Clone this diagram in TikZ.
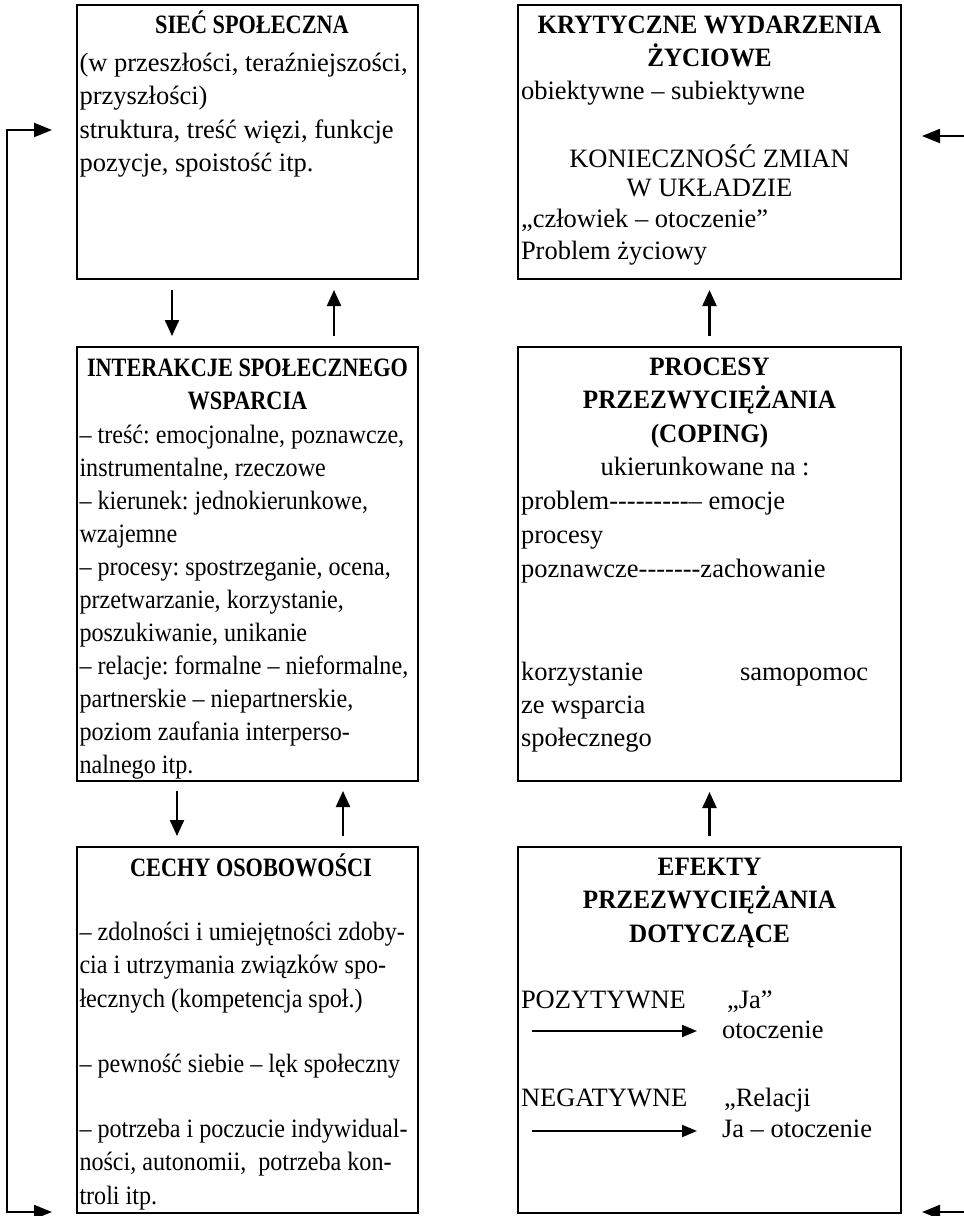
\documentclass[tikz,border=0pt]{standalone}
\usepackage{fontspec}
\setmainfont{Liberation Serif}
\newfontfamily\leftfont{Liberation Serif}[FakeStretch=0.91]
\newfontfamily\lefthead{Liberation Serif}[FakeStretch=0.84]
\newfontfamily\righthead{Liberation Serif}[FakeStretch=0.95]
\usetikzlibrary{arrows.meta}

% stacked lines with a fixed baseline distance; the node baseline is the first line
\newcommand\rowsL[2][33.5pt]{\vtop{\baselineskip=#1\lineskiplimit=-100pt\lineskip=0pt\halign{##\hfil\cr#2\crcr}}}
\newcommand\rowsC[2][33.5pt]{\vtop{\baselineskip=#1\lineskiplimit=-100pt\lineskip=0pt\halign{\hfil##\hfil\cr#2\crcr}}}

\tikzset{
  panel/.style={draw, line width=2.2pt, inner sep=0pt, outer sep=0pt, anchor=north west},
  txt/.style={inner sep=0pt, outer sep=0pt, font=\fontsize{26.5}{33.5}\selectfont},
  txtL/.style={inner sep=0pt, outer sep=0pt, font=\leftfont\fontsize{26.5}{33.5}\selectfont},
  headL/.style={inner sep=0pt, outer sep=0pt, font=\lefthead\bfseries\fontsize{26.5}{33.5}\selectfont},
  headR/.style={inner sep=0pt, outer sep=0pt, font=\righthead\bfseries\fontsize{26.5}{33.5}\selectfont},
  arr/.style={line width=2.2pt, -{Triangle[length=16pt,width=14pt]}},
  sidearr/.style={line width=2.2pt, -{Triangle[length=18pt,width=14pt]}},
  looparr/.style={line width=2.2pt, {Triangle[length=18pt,width=14pt]}-{Triangle[length=18pt,width=14pt]}},
  smallarr/.style={line width=2pt, -{Triangle[length=15pt,width=12pt]}}
}

\begin{document}
\frenchspacing
\begin{tikzpicture}[x=1pt,y=-1pt]
\useasboundingbox (0,0) rectangle (964,1216);

% ---- panels ----
\node[panel, minimum width=341pt, minimum height=274pt] (siec)  at (77,5) {};
\node[panel, minimum width=383pt, minimum height=274pt] (kryt)  at (518,5) {};
\node[panel, minimum width=341pt, minimum height=434pt] (inter) at (77,347) {};
\node[panel, minimum width=383pt, minimum height=434pt] (proc)  at (518,347) {};
\node[panel, minimum width=341pt, minimum height=366pt] (cechy) at (77,847) {};
\node[panel, minimum width=383pt, minimum height=366pt] (efekt) at (518,847) {};

% ---- social network ----
\node[headL, anchor=base] (siecT) at (252,33) {SIEĆ SPOŁECZNA};
\node[txt, anchor=base west] (siecB) at (79.5,71) {\rowsL{(w przeszłości, teraźniejszości,\cr
przyszłości)\cr
struktura, treść więzi, funkcje\cr
pozycje, spoistość itp.}};

% ---- critical life events ----
\node[headR, anchor=base] (krytT) at (709.5,33) {\rowsC{KRYTYCZNE WYDARZENIA\cr ŻYCIOWE}};
\node[txt, anchor=base west] (krytB1) at (521,99) {obiektywne – subiektywne};
\node[txt, anchor=base] (krytB2) at (709.5,167) {\rowsC[29.5pt]{KONIECZNOŚĆ ZMIAN\cr W UKŁADZIE}};
\node[txt, anchor=base west] (krytB3) at (521,227) {\rowsL[32pt]{„człowiek – otoczenie”\cr Problem życiowy}};

% ---- support interactions ----
\node[headL, anchor=base] (interT) at (247.5,376) {\rowsC[33.5pt]{INTERAKCJE SPOŁECZNEGO\cr WSPARCIA}};
\node[txtL, anchor=base west] (interB) at (79.5,443) {\rowsL[33pt]{– treść: emocjonalne, poznawcze,\cr
instrumentalne, rzeczowe\cr
– kierunek: jednokierunkowe,\cr
wzajemne\cr
– procesy: spostrzeganie, ocena,\cr
przetwarzanie, korzystanie,\cr
poszukiwanie, unikanie\cr
– relacje: formalne – nieformalne,\cr
partnerskie – niepartnerskie,\cr
poziom zaufania interperso-\cr
nalnego itp.}};

% ---- coping ----
\node[headR, anchor=base] (procT) at (709.5,375) {\rowsC[33.5pt]{PROCESY\cr PRZEZWYCIĘŻANIA\cr (COPING)}};
\node[txt, anchor=base] (procU) at (705,475) {ukierunkowane na :};
\node[txt, anchor=base west] (procB) at (521,509) {\rowsL[34pt]{problem-{}-{}-{}-{}-{}-{}-{}-{}-{}– emocje\cr
procesy\cr
poznawcze-{}-{}-{}-{}-{}-{}-{}zachowanie}};
\node[txt, anchor=base west] (procK) at (521,680) {\rowsL[33pt]{korzystanie\cr ze wsparcia\cr społecznego}};
\node[txt, anchor=base west] (procS) at (740,680) {samopomoc};

% ---- personality ----
\node[headL, anchor=base] (cechyT) at (251,876) {CECHY OSOBOWOŚCI};
\node[txtL, anchor=base west] (cechyB) at (79.5,940) {\rowsL{– zdolności i umiejętności zdoby-\cr
cia i utrzymania związków spo-\cr
łecznych (kompetencja społ.)\cr\noalign{\vskip 31.5pt}
– pewność siebie – lęk społeczny\cr\noalign{\vskip 31.5pt}
– potrzeba i poczucie indywidual-\cr
ności, autonomii,~ potrzeba kon-\cr
troli itp.}};

% ---- coping effects ----
\node[headR, anchor=base] (efektT) at (709.5,875) {\rowsC{EFEKTY\cr PRZEZWYCIĘŻANIA\cr DOTYCZĄCE}};
\node[txt, anchor=base west] (poz)  at (521,1008) {POZYTYWNE};
\node[txt, anchor=base west] (ja)   at (727,1008) {„Ja”};
\node[txt, anchor=base west] (otA)  at (722,1038) {otoczenie};
\node[txt, anchor=base west] (neg)  at (521,1106) {NEGATYWNE};
\node[txt, anchor=base west] (rel)  at (724,1106) {„Relacji};
\node[txt, anchor=base west] (otB)  at (722,1137) {Ja – otoczenie};
\coordinate (pozS) at (532,1031);
\coordinate (pozE) at (697,1031);
\coordinate (negS) at (532,1131);
\coordinate (negE) at (697,1131);
\draw[smallarr] (pozS) -- (pozE);
\draw[smallarr] (negS) -- (negE);

% ---- connectors between panels ----
\draw[arr, shorten <=11pt, shorten >=11pt] ([xshift=95pt]siec.south west) -- ([xshift=95pt]inter.north west);
\draw[arr, shorten <=11pt, shorten >=11pt] ([xshift=257pt]inter.north west) -- ([xshift=257pt]siec.south west);
\draw[arr, shorten <=10pt, shorten >=11pt] ([xshift=100pt]inter.south west) -- ([xshift=100pt]cechy.north west);
\draw[arr, shorten <=11pt, shorten >=10pt] ([xshift=266pt]cechy.north west) -- ([xshift=266pt]inter.south west);
\draw[arr, shorten <=11pt, shorten >=11pt] (proc.north) -- (kryt.south);
\draw[arr, shorten <=11pt, shorten >=11pt] (efekt.north) -- (proc.south);

% ---- feedback loop on the left ----
\coordinate (loopTop) at (52,130);
\coordinate (loopBot) at (52,1212);
\draw[looparr] (loopTop) -- ++(-45,0) |- (loopBot);

% ---- incoming arrows on the right ----
\coordinate (inTop) at (964,136);
\coordinate (inBot) at (964,1212);
\draw[sidearr] (inTop) -- ++(-42,0);
\draw[sidearr] (inBot) -- ++(-42,0);
\end{tikzpicture}
\end{document}
